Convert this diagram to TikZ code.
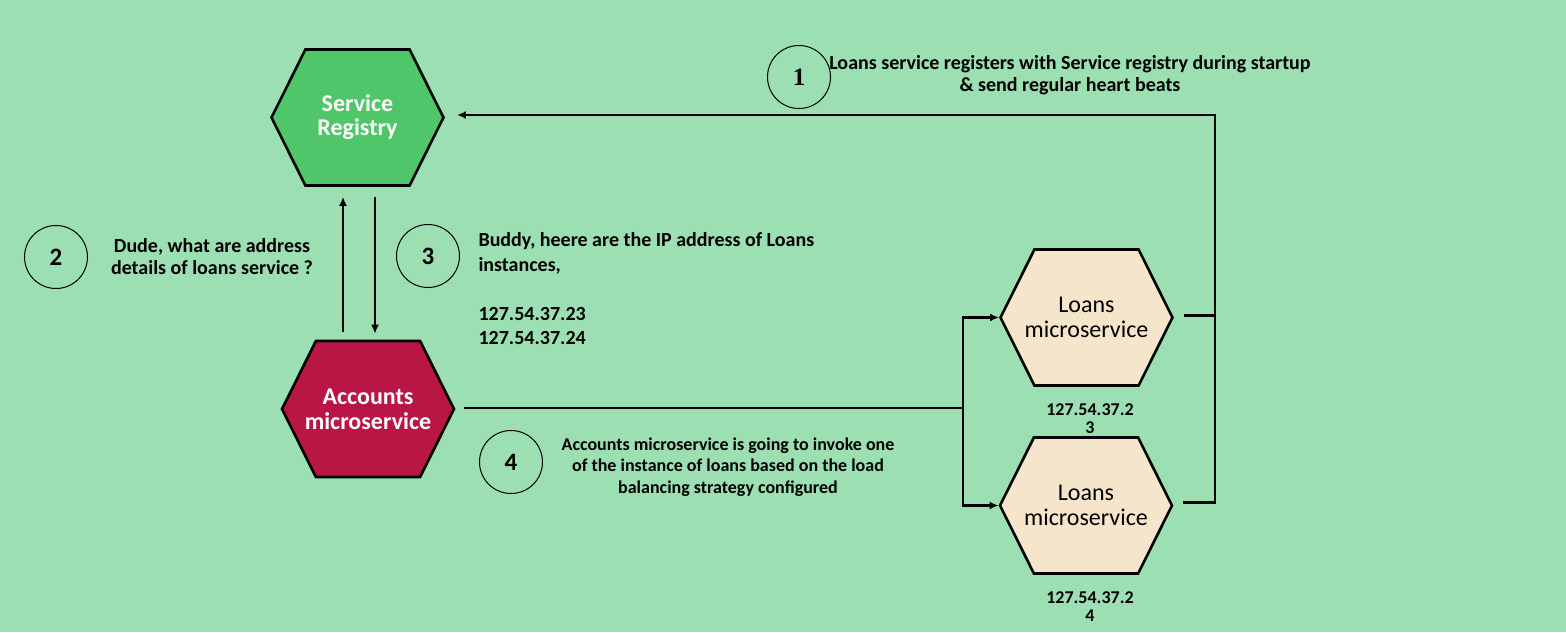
\documentclass[tikz,border=0pt]{standalone}
\usepackage{fontspec}
\setmainfont{Carlito}
\newfontfamily\onefont{Liberation Serif}
\usetikzlibrary{arrows.meta,positioning,calc,shapes.symbols}
\definecolor{bgmint}{RGB}{155,223,179}
\definecolor{regreen}{RGB}{80,198,106}
\definecolor{acccrimson}{RGB}{185,22,70}
\definecolor{loanbeige}{RGB}{245,230,203}
\tikzset{
  hexnode/.style={draw, line width=2.6pt, signal, signal to=east and west, signal pointer angle=127, minimum width=172pt, minimum height=136pt, inner xsep=-12pt, inner ysep=0pt, align=center},
  regbox/.style={hexnode, fill=regreen, text=white, font=\fontsize{24}{24}\selectfont\bfseries},
  accbox/.style={hexnode, fill=acccrimson, text=white, font=\fontsize{24}{25}\selectfont\bfseries},
  loanbox/.style={hexnode, fill=loanbeige, font=\fontsize{24}{25}\selectfont},
  stepcircle/.style={draw, circle, line width=1pt, minimum size=63pt, inner sep=0pt, font=\fontsize{25}{25}\selectfont\bfseries},
  note/.style={align=center, font=\fontsize{20}{22}\selectfont\bfseries},
  iplabel/.style={align=center, font=\fontsize{18}{18}\selectfont\bfseries},
  wire/.style={line width=2.2pt},
  cline/.style={-{Latex[length=9pt,width=8pt]}, line width=2.2pt},
}

\begin{document}
\begin{tikzpicture}[x=1pt, y=-1pt]
  \fill[bgmint] (0,0) rectangle (1566,632);
  \useasboundingbox (0,0) rectangle (1566,632);
  % services
  \node[regbox] (SR) at (357.5,117.5) {Service\\Registry};
  \node[accbox] (Acc) at (368,409) {Accounts\\microservice};
  \node[loanbox] (L1) at (1086.5,317.5) {Loans\\microservice};
  \node[loanbox] (L2) at (1086,505.5) {Loans\\microservice};
  \node[iplabel] (ip1) at (1090,419) {127.54.37.2\\3};
  \node[iplabel] (ip2) at (1090,607) {127.54.37.2\\4};
  % steps
  \node[stepcircle] (c1) at (799,77) {\onefont 1};
  \node[stepcircle] (c2) at (56,257) {2};
  \node[stepcircle] (c3) at (428,256) {3};
  \node[stepcircle] (c4) at (511,462) {4};
  \node[note] (n1) at (1070,75) {Loans service registers with Service registry during startup\\\& send regular heart beats};
  \node[note] (n2) at (212,257) {Dude, what are address\\details of loans service ?};
  \node[note, align=left, anchor=west, font=\fontsize{20}{24.5}\selectfont\bfseries] (n3) at (475,289) {Buddy, heere are the IP address of Loans\\instances,\\[24.5pt]127.54.37.23\\127.54.37.24};
  \node[note, font=\fontsize{18}{21.5}\selectfont\bfseries] (n4) at (728,467) {Accounts microservice is going to invoke one\\of the instance of loans based on the load\\balancing strategy configured};
  % connectors
  \coordinate (split) at (963,408);
  \coordinate (bus) at (1215,115);
  \draw[cline] ($(Acc.north)+(-25,-8)$) -- ($(SR.south)+(-14.5,10)$);
  \draw[cline] ($(SR.south)+(17.5,10)$) -- ($(Acc.north)+(7,-6)$);
  \draw[wire] ($(Acc.east)+(9,-1)$) -- (split);
  \draw[cline] (split) |- (L1.west);
  \draw[cline] (split) |- (L2.west);
  \draw[wire] ($(L1.east)+(10,-2)$) -| (bus);
  \draw[cline] ($(L2.east)+(10,-3)$) -| (bus) -- ($(SR.east |- bus)+(12,0)$);
\end{tikzpicture}
\end{document}
